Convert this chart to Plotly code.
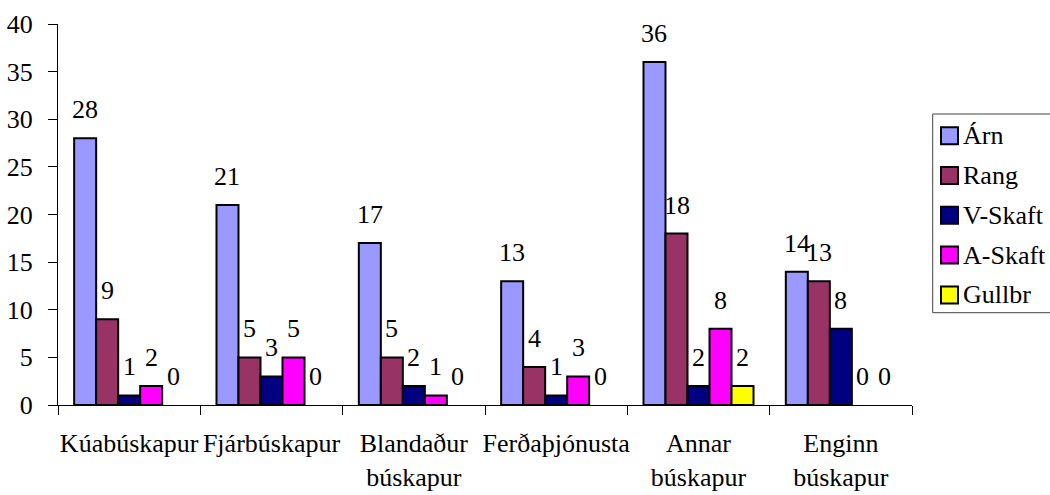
import plotly.graph_objects as go

categories = ["Kúabúskapur", "Fjárbúskapur", "Blandaður<br>búskapur", "Ferðaþjónusta",
              "Annar<br>búskapur", "Enginn<br>búskapur"]
series_names = ["Árn", "Rang", "V-Skaft", "A-Skaft", "Gullbr"]
arn = [28, 21, 17, 13, 36, 14]
rang = [9, 5, 5, 4, 18, 13]
vskaft = [1, 3, 2, 1, 2, 8]
askaft = [2, 5, 1, 3, 8, 0]
gullbr = [0, 0, 0, 0, 2, 0]
series_values = [arn, rang, vskaft, askaft, gullbr]
colors = ["#9999FF", "#993366", "#000080", "#FF00FF", "#FFFF00"]
y_ticks = [0, 5, 10, 15, 20, 25, 30, 35, 40]

FONT = "Liberation Serif, Times New Roman, Times, serif"
FS = 26
BARGAP = 0.227

W, H = 1050, 495
ML, MR, MT, MB = 58, 138, 24, 90
PW, PH = W - ML - MR, H - MT - MB


def px_x(px):
    return (px - ML) / PW


def px_y(py):
    return (H - MB - py) / PH


fig = go.Figure()
for name, vals, col in zip(series_names, series_values, colors):
    fig.add_trace(go.Bar(x=categories, y=vals, name=name, showlegend=False,
                         marker=dict(color=col,
                                     line=dict(color="black",
                                               width=[2 if v > 0 else 0 for v in vals]))))

n = len(series_names)
w = (1 - BARGAP) / n
annotations = []
for si, vals in enumerate(series_values):
    for ci, v in enumerate(vals):
        annotations.append(dict(x=ci + (si - (n - 1) / 2) * w, y=v, xref="x", yref="y",
                                text=str(v), showarrow=False, yanchor="bottom", yshift=12,
                                font=dict(family=FONT, size=FS, color="black")))

# legend (drawn to match the reference's boxed legend)
shapes = [dict(type="rect", xref="paper", yref="paper",
               x0=px_x(932.7), x1=px_x(1060), y0=px_y(312.7), y1=px_y(114),
               line=dict(color="#444444", width=1), fillcolor="white", layer="above")]
for i, (name, col) in enumerate(zip(series_names, colors)):
    cy = 135.7 + 39.8 * i
    shapes.append(dict(type="rect", xref="paper", yref="paper",
                       x0=px_x(941), x1=px_x(958), y0=px_y(cy + 8.5), y1=px_y(cy - 8.5),
                       line=dict(color="black", width=2), fillcolor=col, layer="above"))
    annotations.append(dict(x=px_x(961), y=px_y(cy), xref="paper", yref="paper",
                            text=name, showarrow=False, xanchor="left", yanchor="middle",
                            font=dict(family=FONT, size=FS, color="black")))

fig.update_layout(
    width=W, height=H,
    margin=dict(l=ML, r=MR, t=MT, b=MB),
    paper_bgcolor="white", plot_bgcolor="white",
    barmode="group", bargap=BARGAP, bargroupgap=0,
    font=dict(family=FONT, size=FS, color="black"),
    annotations=annotations, shapes=shapes, showlegend=False,
    xaxis=dict(showline=True, linecolor="black", linewidth=1, ticks="outside",
               tickson="boundaries", ticklen=9, tickcolor="black", showgrid=False,
               tickangle=0, automargin=False,
               ticklabelstandoff=15, tickfont=dict(family=FONT, size=FS)),
    yaxis=dict(range=[0, 40], tickvals=y_ticks, showline=True, linecolor="black",
               linewidth=1, ticks="outside", ticklen=9, tickcolor="black",
               showgrid=False, zeroline=False, ticklabelstandoff=10, automargin=False,
               tickfont=dict(family=FONT, size=FS)),
)

fig.write_html("out.html", config={"displayModeBar": False},
               post_script="document.body.style.margin='0';document.body.style.overflow='hidden';")
